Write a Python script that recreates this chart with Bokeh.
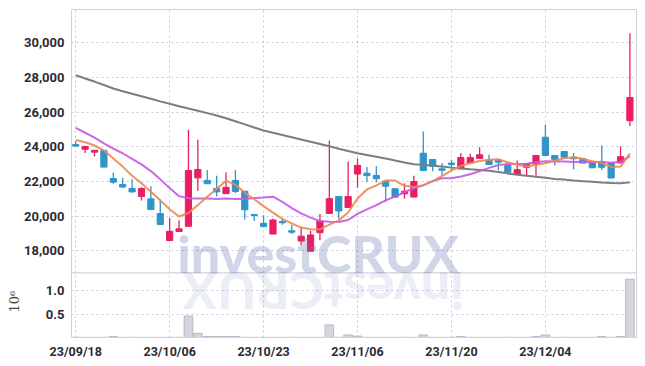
import numpy as np
from bokeh.plotting import figure
from bokeh.models import (ColumnDataSource, Range1d, FixedTicker, NumeralTickFormatter,
                          Label, Span, Title)
from bokeh.embed import file_html
from bokeh.resources import INLINE

# ---------------- data ----------------
dates = ["23/09/18", "23/09/19", "23/09/20", "23/09/21", "23/09/22", "23/09/25", "23/09/26", "23/09/27",
         "23/10/04", "23/10/05", "23/10/06", "23/10/10", "23/10/11", "23/10/12", "23/10/13", "23/10/16",
         "23/10/17", "23/10/18", "23/10/19", "23/10/20", "23/10/23", "23/10/24", "23/10/25", "23/10/26",
         "23/10/27", "23/10/30", "23/10/31", "23/11/01", "23/11/02", "23/11/03", "23/11/06", "23/11/07",
         "23/11/08", "23/11/09", "23/11/10", "23/11/13", "23/11/14", "23/11/15", "23/11/16", "23/11/17",
         "23/11/20", "23/11/21", "23/11/22", "23/11/23", "23/11/24", "23/11/27", "23/11/28", "23/11/29",
         "23/11/30", "23/12/01", "23/12/04", "23/12/05", "23/12/06", "23/12/07", "23/12/08", "23/12/11",
         "23/12/12", "23/12/13", "23/12/14", "23/12/15"]

opens = [24130, 23860, 23690, 23790, 22170, 21830, 21600, 21140, 21000, 20150,
         18600, 19120, 19420, 22210, 22060, 21590, 21300, 22060, 21440, 20100,
         19590, 18970, 19700, 19160, 18570, 17980, 19050, 20160, 21130, 20500,
         22430, 22480, 22350, 22020, 21580, 21290, 21100, 23630, 23270, 22730,
         23060, 22730, 23070, 23330, 23210, 23250, 22920, 22410, 22820, 23020,
         24550, 23500, 23730, 23400, 23310, 23110, 23110, 23070, 23070, 25500]
highs = [24320, 24060, 23820, 23820, 22520, 22210, 22130, 21670, 21730, 20950,
         19890, 19770, 24980, 24400, 22670, 22330, 22540, 22670, 21440, 20100,
         20060, 19870, 19870, 19510, 19400, 19160, 20120, 24360, 21130, 23150,
         23330, 22830, 22900, 22050, 21580, 21900, 22330, 24880, 23270, 23050,
         23250, 23650, 23600, 23980, 23540, 23250, 22920, 23210, 23020, 23500,
         25290, 23500, 23730, 23650, 23310, 23110, 24070, 23070, 24020, 30540]
lows = [24020, 23650, 23440, 22830, 21870, 21640, 21360, 20900, 20380, 19520,
        18580, 19100, 19420, 21460, 21850, 21130, 21300, 21320, 19810, 19720,
        19400, 18970, 19510, 18970, 18310, 17980, 18620, 20160, 19850, 20500,
        21640, 21970, 21960, 20840, 21080, 21000, 21100, 22630, 22590, 22350,
        22670, 22730, 23070, 23330, 22980, 22650, 22400, 22410, 22350, 22350,
        23500, 22920, 23400, 22700, 23060, 22790, 22670, 22200, 23070, 25200]
closes = [24040, 24020, 23800, 22830, 21960, 21680, 21400, 21600, 20380, 19520,
          19130, 19270, 22630, 22690, 21870, 21400, 21660, 21430, 20370, 20040,
          19400, 19780, 19620, 19080, 18850, 18920, 19720, 21010, 20300, 21130,
          22930, 22340, 22160, 21730, 21100, 21440, 22000, 22630, 22880, 22650,
          22970, 23380, 23380, 23540, 22980, 23110, 22540, 22680, 23020, 23500,
          23500, 23260, 23400, 23310, 23060, 22790, 22820, 22200, 23430, 26840]
# closes of the nine sessions before the first shown day (for the moving averages)
prior_closes = [26870, 26600, 26130, 25000, 24350, 24695, 24750, 24205, 24310]
# long moving average (grey line)
ma_long = [28130, 27940, 27760, 27560, 27360, 27200, 27060, 26910, 26770, 26620,
           26480, 26340, 26210, 26080, 25940, 25800, 25650, 25470, 25290, 25110,
           24940, 24810, 24680, 24550, 24420, 24290, 24160, 24030, 23890, 23760,
           23630, 23530, 23430, 23330, 23210, 23090, 22990, 22960, 22910, 22860,
           22800, 22750, 22700, 22660, 22620, 22550, 22470, 22390, 22330, 22270,
           22210, 22150, 22110, 22060, 22020, 21980, 21940, 21910, 21900, 21950]
# volume in millions
volume = [0.004, 0.004, 0.004, 0.004, 0.02, 0.004, 0.004, 0.004, 0.004, 0.004,
          0.004, 0.004, 0.46, 0.09, 0.02, 0.02, 0.02, 0.02, 0.004, 0.004,
          0.004, 0.004, 0.004, 0.004, 0.004, 0.004, 0.004, 0.27, 0.004, 0.055,
          0.03, 0.004, 0.004, 0.004, 0.004, 0.004, 0.004, 0.055, 0.004, 0.004,
          0.004, 0.02, 0.004, 0.004, 0.004, 0.004, 0.004, 0.004, 0.004, 0.02,
          0.055, 0.004, 0.004, 0.004, 0.004, 0.004, 0.02, 0.004, 0.02, 1.25]

tick_idx = [0, 10, 20, 30, 40, 50]
price_ticks = [18000, 20000, 22000, 24000, 26000, 28000, 30000]
vol_ticks = [0.5, 1.0]

# ---------------- derived ----------------
n = len(closes)
idx = list(range(n))
allc = np.array(prior_closes + closes, dtype=float)
k0 = len(prior_closes)
ma5 = [allc[k0 + i - 4:k0 + i + 1].mean() for i in idx]
ma10 = [allc[k0 + i - 9:k0 + i + 1].mean() for i in idx]

UP = "#e91e63"
DOWN = "#2f95c8"
colors = [UP if c >= o else DOWN for o, c in zip(opens, closes)]
src = ColumnDataSource(dict(
    i=idx, o=opens, h=highs, l=lows, c=closes,
    top=[max(o, c) for o, c in zip(opens, closes)],
    bottom=[min(o, c) for o, c in zip(opens, closes)],
    color=colors, vol=volume,
))

FONT = "Roboto"
GRID = "#c9c9dc"
BORDER = "#d2d2da"

# price panel sits above the volume panel inside one frame
P_LO, P_HI = 13009, 31914
V_LO, V_HI = 0, 7.04
SPLIT = 16738          # price value at the panel boundary

def vol_as_price(v):
    return int(round(P_LO + (v - V_LO) / (V_HI - V_LO) * (P_HI - P_LO)))

p = figure(width=645, height=366, x_range=Range1d(-0.45, 59.7), y_range=Range1d(P_LO, P_HI),
           output_backend="svg", toolbar_location=None,
           min_border_left=71, min_border_right=9, min_border_top=9, min_border_bottom=29)
p.extra_y_ranges = {"vol": Range1d(V_LO, V_HI)}

vt = [vol_as_price(v) for v in vol_ticks]
p.yaxis.ticker = FixedTicker(ticks=vt + price_ticks)
p.yaxis.formatter = NumeralTickFormatter(format="0,0")
p.yaxis.major_label_overrides = {t: f"{v:.1f}" for t, v in zip(vt, vol_ticks)}
p.xaxis.ticker = FixedTicker(ticks=tick_idx)
p.xaxis.major_label_overrides = {t: dates[t] for t in tick_idx}

for g in (p.xgrid, p.ygrid):
    g.grid_line_color = GRID
    g.grid_line_dash = "2 3"
p.outline_line_color = BORDER
for ax in (p.xaxis, p.yaxis):
    ax.axis_line_color = BORDER
    ax.major_tick_line_color = None
    ax.minor_tick_line_color = None
    ax.major_tick_out = 0
    ax.major_tick_in = 0
    ax.major_label_text_font = FONT
    ax.major_label_text_font_style = "bold"
    ax.major_label_text_color = "#2b2b33"
p.yaxis.major_label_text_font_size = "13px"
p.xaxis.major_label_text_font_size = "12.5px"
p.yaxis.major_label_standoff = 7
p.xaxis.major_label_standoff = 6

p.add_layout(Span(location=SPLIT, dimension="width", line_color=BORDER, line_width=1.2))

# volume bars
p.vbar(x="i", width=0.92, top="vol", bottom=0, fill_color="#d5d5dd",
       line_color="#b9b9c6", line_width=1, source=src, y_range_name="vol")

# candles
p.segment(x0="i", y0="h", x1="i", y1="l", color="color", line_width=1.3, source=src)
p.vbar(x="i", width=0.66, top="top", bottom="bottom", fill_color="color",
       line_color="color", source=src)

# moving averages
p.line(idx, ma_long, line_color="#7d7d80", line_width=2)
p.line(idx, ma10, line_color="#c757e6", line_width=2, line_alpha=0.9)
p.line(idx, ma5, line_color="#ee8750", line_width=2, line_alpha=0.9)

# watermark and its faint reflection
WM_FONT = "Lato Black"
p.add_layout(Label(x=10.8, y=SPLIT, text="investCRUX", text_font=WM_FONT, text_font_style="normal",
                   text_font_size="52px", text_color="#6478b4", text_alpha=0.3,
                   text_baseline="middle", y_offset=20))
p.add_layout(Label(x=41.3, y=SPLIT, text="investCRUX", text_font=WM_FONT, text_font_style="normal",
                   text_font_size="52px", text_color="#6478b4", text_alpha=0.13,
                   text_baseline="middle", y_offset=-19, angle=np.pi))

# volume unit label (left side, next to the volume panel)
p.add_layout(Title(text="10\u2076", align="left", offset=25, standoff=0,
                   vertical_align="bottom", text_font="DejaVu Serif",
                   text_font_size="13px", text_font_style="normal",
                   text_color="#444444"), "left")

open("out.html", "w").write(file_html(p, INLINE))
